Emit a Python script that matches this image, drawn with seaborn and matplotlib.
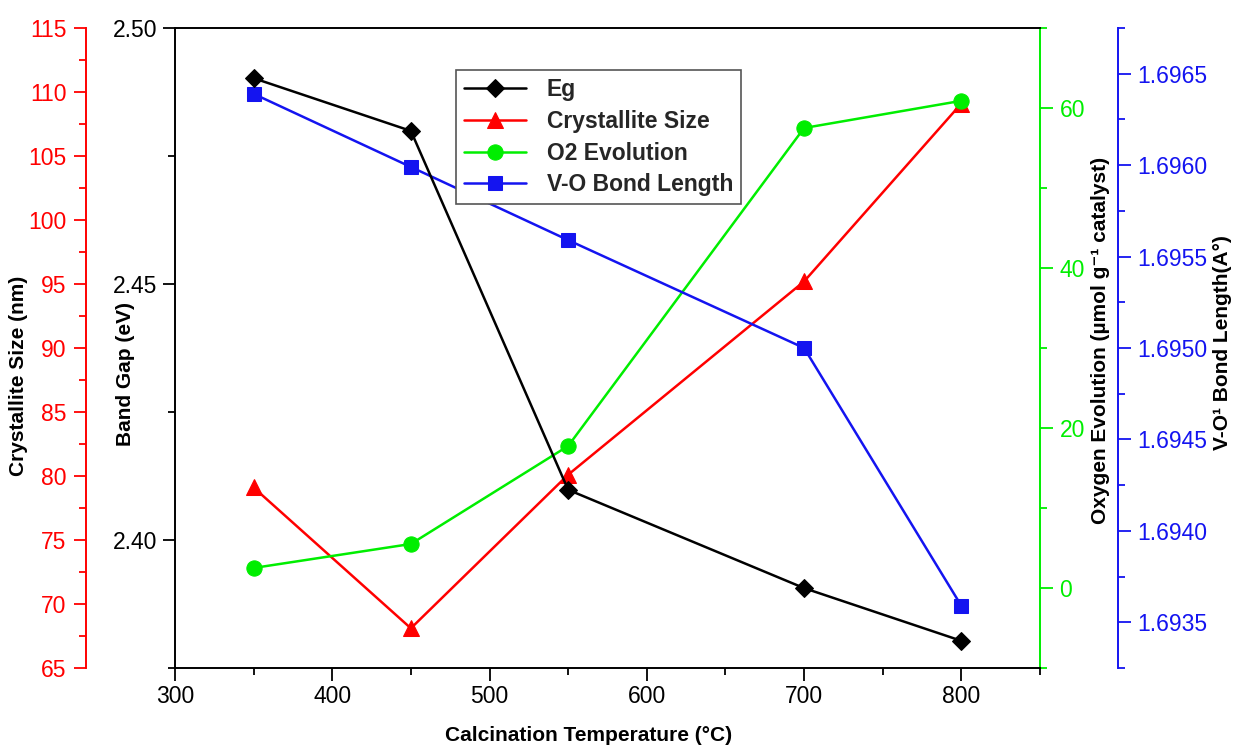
import matplotlib
matplotlib.use("Agg")
import matplotlib.pyplot as plt
import seaborn as sns
from matplotlib.ticker import MultipleLocator, FormatStrFormatter

# Calcination series
temperature = [350, 450, 550, 700, 800]
band_gap = [2.4902, 2.4799, 2.4098, 2.3906, 2.3803]          # eV
crystallite_size = [79.1, 68.1, 80.1, 95.2, 109.1]            # nm
o2_evolution = [2.5, 5.5, 17.75, 57.5, 60.9]                  # umol g-1 catalyst
vo_bond_length = [1.69639, 1.69599, 1.69559, 1.69500, 1.69359]  # A

series_names = ["Eg", "Crystallite Size", "O2 Evolution", "V-O Bond Length"]

RED = "#ff0000"
GREEN = "#00ee00"
BLUE = "#1414f0"
BLACK = "#000000"

sns.set_style("ticks")
plt.rcParams["font.family"] = ["Liberation Sans", "DejaVu Sans"]
plt.rcParams["axes.linewidth"] = 1.4

fig = plt.figure(figsize=(12.4, 7.45), dpi=100)
fig.patch.set_facecolor("white")
ax = fig.add_axes([0.1411, 0.1034, 0.6976, 0.8590])
ax_cs = ax.twinx()
ax_o2 = ax.twinx()
ax_vo = ax.twinx()

line_kw = dict(linewidth=1.8, markersize=10, legend=False)
sns.lineplot(x=temperature, y=band_gap, ax=ax, color=BLACK, marker="D",
             markeredgecolor=BLACK, **{**line_kw, "markersize": 9.5})
sns.lineplot(x=temperature, y=crystallite_size, ax=ax_cs, color=RED, marker="^",
             markeredgecolor=RED, **{**line_kw, "markersize": 12})
sns.lineplot(x=temperature, y=o2_evolution, ax=ax_o2, color=GREEN, marker="o",
             markeredgecolor=GREEN, **{**line_kw, "markersize": 11})
sns.lineplot(x=temperature, y=vo_bond_length, ax=ax_vo, color=BLUE, marker="s",
             markeredgecolor=BLUE, **line_kw)

# main axes on top so the Eg curve and legend sit above the twins
ax.set_zorder(ax_vo.get_zorder() + 1)
ax.patch.set_visible(False)

# limits
ax.set_xlim(300, 850)
ax.set_ylim(2.375, 2.50)
ax_cs.set_ylim(65, 115)
ax_o2.set_ylim(-10, 70)
ax_vo.set_ylim(1.69325, 1.69675)

# spines
for s in ["top", "bottom", "left"]:
    ax.spines[s].set_color(BLACK)
ax.spines["right"].set_visible(False)

for a in (ax_cs, ax_o2, ax_vo):
    for s in ["top", "bottom", "left", "right"]:
        a.spines[s].set_visible(False)

ax_cs.spines["left"].set_visible(True)
ax_cs.spines["left"].set_position(("axes", -0.103))
ax_cs.spines["left"].set_color(RED)
ax_cs.yaxis.set_ticks_position("left")
ax_cs.yaxis.set_label_position("left")

ax_o2.spines["right"].set_visible(True)
ax_o2.spines["right"].set_color(GREEN)

ax_vo.spines["right"].set_visible(True)
ax_vo.spines["right"].set_position(("axes", 1.090))
ax_vo.spines["right"].set_color(BLUE)

# ticks
ax.xaxis.set_major_locator(MultipleLocator(100))
ax.xaxis.set_minor_locator(MultipleLocator(50))
ax.yaxis.set_major_locator(MultipleLocator(0.05))
ax.yaxis.set_minor_locator(MultipleLocator(0.025))
ax.yaxis.set_major_formatter(FormatStrFormatter("%.2f"))

ax_cs.yaxis.set_major_locator(MultipleLocator(5))
ax_cs.yaxis.set_minor_locator(MultipleLocator(2.5))
ax_o2.yaxis.set_major_locator(MultipleLocator(20))
ax_o2.yaxis.set_minor_locator(MultipleLocator(10))
ax_vo.yaxis.set_major_locator(MultipleLocator(0.0005))
ax_vo.yaxis.set_minor_locator(MultipleLocator(0.00025))
ax_vo.yaxis.set_major_formatter(FormatStrFormatter("%.4f"))

tick_fs = 16.5
ax.tick_params(axis="both", which="both", direction="out", width=1.3,
               colors=BLACK, labelsize=tick_fs, top=False, right=False)
ax.tick_params(which="major", length=9)
ax.tick_params(which="minor", length=5)

for a, c in ((ax_cs, RED), (ax_o2, GREEN), (ax_vo, BLUE)):
    a.tick_params(axis="y", which="both", direction="out", width=1.3,
                  colors=c, labelsize=tick_fs)
    a.tick_params(axis="y", which="major", length=9, pad=5)
    a.tick_params(axis="y", which="minor", length=5)

# axis titles
lab_kw = dict(fontsize=15, fontweight="bold", color=BLACK)
ax.set_xlabel("Calcination Temperature (°C)", **lab_kw)
ax.xaxis.set_label_coords(0.478, -0.09)
ax.set_ylabel("Band Gap (eV)", **lab_kw)
ax.yaxis.set_label_coords(-0.046, 0.459)
ax_cs.set_ylabel("Crystallite Size (nm)", **lab_kw)
ax_cs.yaxis.set_label_coords(-0.170, 0.456)
ax_o2.set_ylabel("Oxygen Evolution (µmol g⁻¹ catalyst)", **lab_kw)
ax_o2.yaxis.set_label_coords(1.059, 0.512)
ax_vo.set_ylabel("V-O¹ Bond Length(A°)", **lab_kw)
ax_vo.yaxis.set_label_coords(1.200, 0.509)

# legend
handles = [ax.lines[0], ax_cs.lines[0], ax_o2.lines[0], ax_vo.lines[0]]
leg = ax.legend(handles, series_names, loc="upper left",
                bbox_to_anchor=(0.325, 0.934), borderaxespad=0,
                frameon=True, fancybox=False,
                framealpha=1, edgecolor="#555555", handlelength=2.7,
                handletextpad=0.9, labelspacing=0.38, borderpad=0.35,
                prop={"size": 16.5, "weight": "bold"})
leg.get_frame().set_linewidth(1.2)

fig.savefig("out.png", dpi=100, facecolor="white")
